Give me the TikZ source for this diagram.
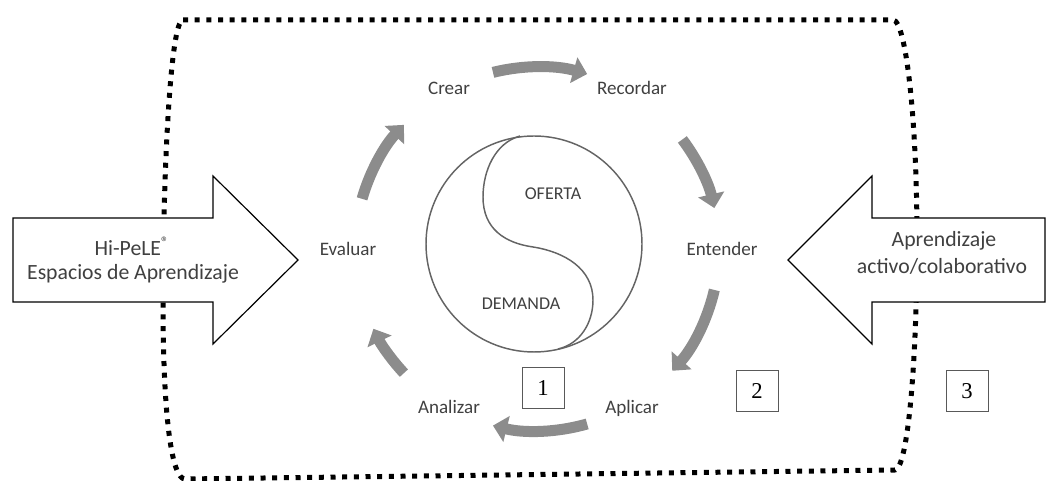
\documentclass[tikz,border=0pt]{standalone}
\usepackage{fontspec}
\setmainfont{Carlito}
\newfontfamily\numfont{Liberation Serif}
\usetikzlibrary{arrows.meta}
\definecolor{txt}{RGB}{64,64,64}
\definecolor{cycgray}{RGB}{140,140,140}
\definecolor{ringgray}{RGB}{100,100,100}
\begin{document}
\begin{tikzpicture}[x=0.75pt,y=0.75pt,
  stage/.style={font=\fontsize{14.3}{16}\selectfont, text=txt, inner sep=0pt, anchor=base},
  core/.style={font=\fontsize{13.5}{15}\selectfont, text=txt, inner sep=0pt, anchor=base},
  blocktext/.style={font=\fontsize{16.3}{20}\selectfont, text=txt, inner sep=0pt, anchor=base},
  numbox/.style={draw=gray!70!black, line width=0.6pt, minimum width=31.5pt, minimum height=30.75pt, inner sep=0pt, font=\numfont\fontsize{17}{19}\selectfont},
  cycarrow/.style={draw=cycgray, line width=8.25pt, -{Triangle[width=19.5pt,length=10.5pt]}},
  blockarrow/.style={draw=black, line width=0.9pt, fill=white, line join=miter},
  frame/.style={draw=black, line width=3.75pt, dash pattern=on 3.75pt off 5pt},
  ring/.style={draw=ringgray, line width=1.1pt}
]
\useasboundingbox (0,0) rectangle (1053,481);

% dotted outer frame
\draw[frame] (183,461) -- (893,461)
  .. controls (906,461) and (917,361) .. (917,241)
  .. controls (917,121) and (908,13) .. (895,11)
  -- (185,2)
  .. controls (172,2) and (163,61) .. (163,181)
  .. controls (163,301) and (170,461) .. (183,461) -- cycle;

% block arrows pointing inwards
\draw[blockarrow] (13,263) -- (213,263) -- (213,305) -- (298,221) -- (213,137) -- (213,179) -- (13,179) -- cycle;
\draw[blockarrow] (1045,263) -- (872,263) -- (872,305) -- (788,221) -- (872,137) -- (872,179) -- (1045,179) -- cycle;

\node[blocktext] (hipele) at (132,225) {Hi-PeLE\textsuperscript{®}};
\node[blocktext] (espacios) at (133,201) {Espacios de Aprendizaje};
\node[blocktext] (aprend) at (944,234) {Aprendizaje};
\node[blocktext] (activo) at (942,207) {activo/colaborativo};

% yin-yang core
\node[ring, circle, minimum size=162pt, inner sep=0pt] (yinyang) at (534,237) {};
\draw[ring] (520,345) .. controls (495,338) and (483,310) .. (483,284)
  .. controls (483,252) and (505,238) .. (533,234)
  .. controls (565,229) and (593,212) .. (593,181)
  .. controls (593,158) and (580,137) .. (558,132);
\node[core] (oferta) at (553,281) {OFERTA};
\node[core] (demanda) at (521,171) {DEMANDA};

% stages of the cycle
\node[stage] (crear) at (449,386) {Crear};
\node[stage] (recordar) at (632,386) {Recordar};
\node[stage] (entender) at (722,225) {Entender};
\node[stage] (aplicar) at (632,67) {Aplicar};
\node[stage] (analizar) at (449,67) {Analizar};
\node[stage] (evaluar) at (348,225) {Evaluar};

% curved cycle arrows
\coordinate (cyc) at (537,232);
\foreach \a/\b in {104/74, 37/13, -13/-42, -74/-104, 223/206, 164/137}
  \draw[cycarrow] ([shift={(\a:182)}]cyc) arc[start angle=\a, end angle=\b, radius=182];

% numbered boxes
\node[numbox] (b1) at (543,93) {1};
\node[numbox] (b2) at (757,90) {2};
\node[numbox] (b3) at (967,90) {3};
\end{tikzpicture}
\end{document}
